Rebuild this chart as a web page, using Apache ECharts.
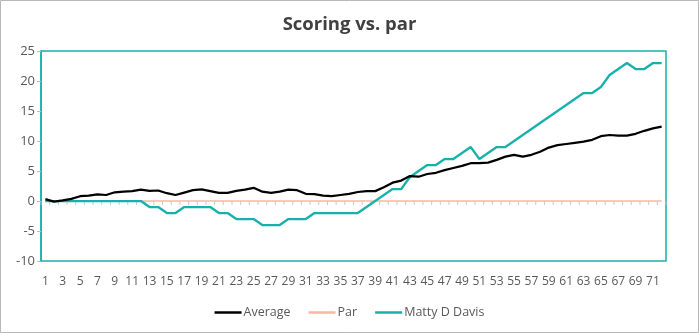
<!DOCTYPE html>
<html>
<head>
<meta charset="utf-8">
<script src="https://cdn.jsdelivr.net/npm/echarts@6/dist/echarts.min.js"></script>
<style>
html,body{margin:0;padding:0;background:#fff;}
#chart{width:699px;height:333px;}
</style>
</head>
<body>
<div id="chart"></div>
<script>
const categories = Array.from({length: 72}, (_, i) => String(i + 1));
const average = [0.3,-0.1,0.1,0.35,0.8,0.9,1.1,1.0,1.45,1.55,
  1.65,1.9,1.7,1.75,1.3,1.0,1.4,1.8,1.95,1.65,
  1.35,1.35,1.7,1.9,2.2,1.55,1.35,1.55,1.9,1.8,
  1.2,1.15,0.9,0.8,1.0,1.2,1.5,1.65,1.65,2.3,
  3.05,3.4,4.15,4.05,4.5,4.7,5.15,5.5,5.85,6.3,
  6.3,6.4,6.85,7.4,7.7,7.4,7.7,8.2,8.9,9.3,
  9.5,9.7,9.9,10.2,10.8,11.0,10.9,10.9,11.2,11.7,
  12.1,12.4];
const par = categories.map(() => 0);
const matty = [0,0,0,0,0,0,0,0,0,0,
  0,0,-1,-1,-2,-2,-1,-1,-1,-1,
  -2,-2,-3,-3,-3,-4,-4,-4,-3,-3,
  -3,-2,-2,-2,-2,-2,-2,-1,0,1,
  2,2,4,5,6,6,7,7,8,9,
  7,8,9,9,10,11,12,13,14,15,
  16,17,18,18,19,21,22,23,22,22,
  23,23];
const yTicks = {min: -10, max: 25, interval: 5};
// category boundaries (where the axis tick marks sit), in category-number units
const tickPositions = [0.5].concat(categories.map((c, i) => [i + 1.5])).map(v => [Number(v), 0]);

const FONT = '"Open Sans", "Noto Sans", sans-serif';
const TEAL = '#17B0AA';
const PAR = '#F6B9A5';
const TICK = '#bdbdbd';
const chart = echarts.init(document.getElementById('chart'), null, {renderer: 'canvas'});
chart.setOption({
  animation: false,
  backgroundColor: '#fff',
  textStyle: {fontFamily: FONT},
  title: {
    text: 'Scoring vs. par',
    left: 'center', top: 10,
    textStyle: {fontFamily: FONT, fontSize: 18.5, fontWeight: 'bold', color: '#404040'}
  },
  legend: {
    bottom: 9, left: 'center',
    itemWidth: 27, itemHeight: 2.5, itemGap: 18,
    icon: 'rect',
    textStyle: {fontFamily: FONT, fontSize: 12.5, color: '#595959', padding: [0,0,0,-3]},
    data: ['Average', 'Par', 'Matty D Davis']
  },
  grid: {
    left: 41, right: 33, top: 51, bottom: 72,
    show: true, borderColor: TEAL, borderWidth: 1.5, containLabel: false
  },
  xAxis: [{
    type: 'category', data: categories, boundaryGap: true, position: 'bottom',
    axisLine: {show: false, onZero: false},
    axisTick: {show: false},
    axisLabel: {interval: 1, margin: 15, fontSize: 12, color: '#595959', fontFamily: FONT},
    splitLine: {show: false}
  }, {
    type: 'value', position: 'top', show: false,
    min: 0.5, max: categories.length + 0.5,
    axisLine: {onZero: false}, splitLine: {show: false}
  }],
  yAxis: {
    type: 'value', min: yTicks.min, max: yTicks.max, interval: yTicks.interval,
    axisLine: {show: true, lineStyle: {color: TEAL, width: 1.5}},
    axisTick: {show: true, length: 4, lineStyle: {color: TICK}},
    axisLabel: {fontSize: 13, color: '#595959', fontFamily: FONT, margin: 6},
    splitLine: {show: false}
  },
  series: [
    {name: 'ticks', type: 'scatter', xAxisIndex: 1, yAxisIndex: 0, silent: true,
      data: tickPositions, symbol: 'rect', symbolSize: [1, 4], symbolOffset: [0, 2],
      itemStyle: {color: TICK}, z: 1},
    {name: 'Average', type: 'line', data: average, showSymbol: false, symbol: 'none',
      lineStyle: {color: '#000', width: 2.25}, itemStyle: {color: '#000'}, z: 4},
    {name: 'Par', type: 'line', data: par, showSymbol: false, symbol: 'none',
      lineStyle: {color: PAR, width: 1.5}, itemStyle: {color: PAR}, z: 2},
    {name: 'Matty D Davis', type: 'line', data: matty, showSymbol: false, symbol: 'none',
      lineStyle: {color: TEAL, width: 2.25}, itemStyle: {color: TEAL}, z: 3}
  ],
  graphic: [{
    type: 'rect', silent: true, z: -1,
    shape: {x: 0.5, y: 0.5, width: 698, height: 332},
    style: {fill: null, stroke: '#b8b8b8', lineWidth: 1}
  }]
});
</script>
</body>
</html>
